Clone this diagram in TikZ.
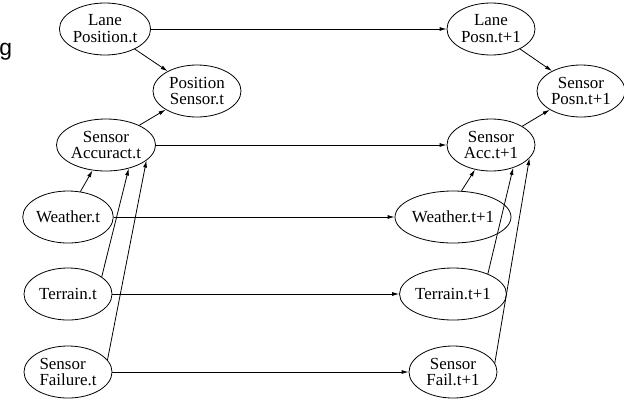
\documentclass[tikz,border=0pt]{standalone}
\usepackage{fontspec}
\setmainfont{Liberation Serif}
\newfontfamily\gfont{Liberation Sans}
\usetikzlibrary{arrows.meta,shapes.geometric}
\begin{document}
\begin{tikzpicture}
	[x=1bp,y=-1bp,line width=0.8pt,
	 node/.style={ellipse,draw,minimum width=88bp,minimum height=52bp,inner sep=0pt,align=center,font=\rmfamily\fontsize{17}{17}\selectfont},
	 >={Latex[length=7bp,width=4bp]}]
    \useasboundingbox (0,0) rectangle (624,398);
    \node[anchor=base west,inner sep=0pt,font=\gfont\fontsize{23}{23}\selectfont] (G) at (-1,55) {g};

    \node[node] (A) at (105,29) {Lane\\Position.t};
    \node[node] (B) at (197,91) {Position\\Sensor.t};
    \node[node] (C) at (106,145) {Sensor\\Accuract.t};
    \node[node] (D) at (68,217) {Weather.t};
    \node[node] (E) at (68,294) {Terrain.t};
    \node[node,align=left] (F) at (68,372) {Sensor\\Failure.t};
    \node[node] (H) at (491,29) {Lane\\Posn.t+1};
    \node[node] (I) at (581,91) {Sensor\\Posn.t+1};
    \node[node] (J) at (491,145) {Sensor\\Acc.t+1};
    \node[node] (K) at (453,217) {Weather.t+1};
    \node[node] (L) at (453,294) {Terrain.t+1};
    \node[node] (M) at (453,372) {Sensor\\Fail.t+1};

    \draw[->] (A) -- (H);
    \draw[->] (A) -- (B);
    \draw[->] (C) -- (B);
    \draw[->] (C) -- (J);
    \draw[->] (D.64) -- (C.-118);
    \draw[->] (E.27) -- (C.-46);
    \draw[->] (F.17) -- (C.-21);
    \draw[->] (D) -- (K);
    \draw[->] (E) -- (L);
    \draw[->] (F) -- (M);
    \draw[->] (H) -- (I);
    \draw[->] (J) -- (I);
    \draw[->] (K.72) -- (J.-123);
    \draw[->] (L.30) -- (J.-46);
    \draw[->] (M.12) -- (J.-19);

\end{tikzpicture}
\end{document}
